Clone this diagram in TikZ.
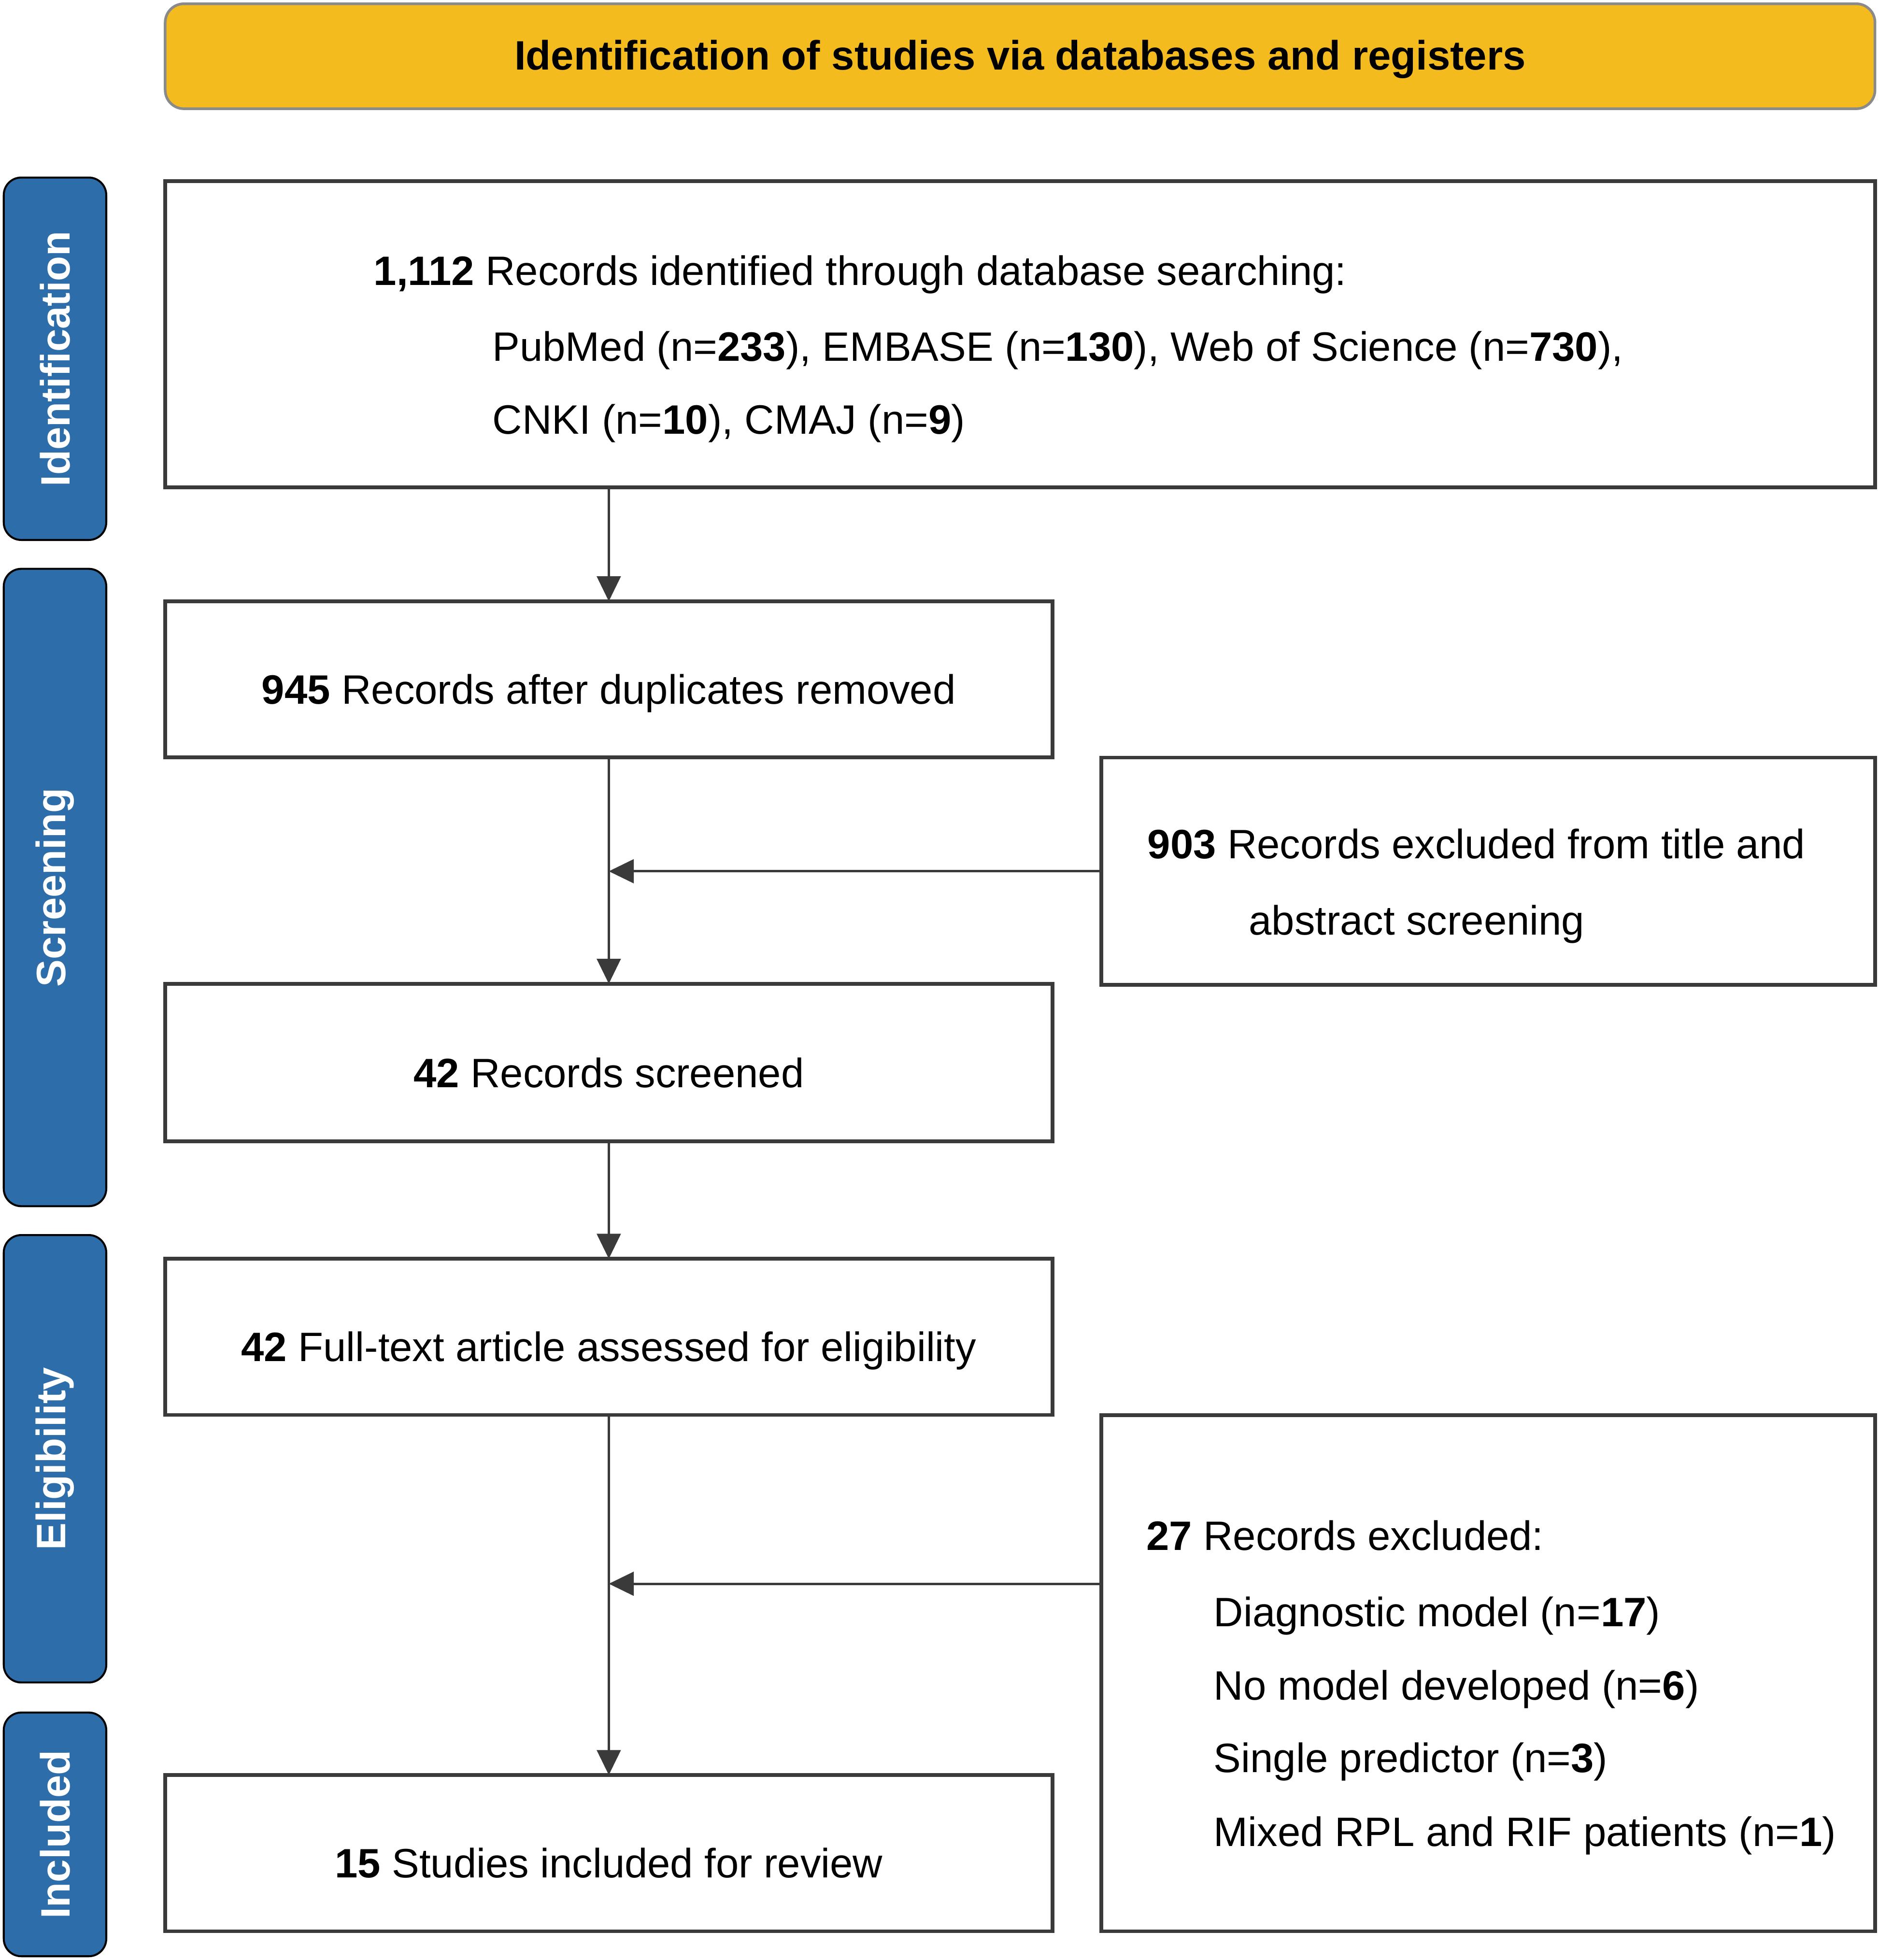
\documentclass[tikz,border=0pt]{standalone}
\usepackage{fontspec}
\setmainfont{Liberation Sans}
\usetikzlibrary{arrows.meta,calc}
\definecolor{hdr}{HTML}{F3BB1D}
\definecolor{hdrline}{HTML}{8A8A8A}
\definecolor{side}{HTML}{2C6DAA}
\definecolor{bord}{HTML}{3A3A3A}
\begin{document}
\begin{tikzpicture}[x=0.02cm,y=-0.02cm,
  every node/.style={font=\fontsize{18.7}{22}\selectfont, inner sep=0pt, outer sep=0pt},
  box/.style={draw=bord, line width=1.7pt, fill=white, rectangle},
  sidebox/.style={draw=black, line width=0.9pt, fill=side, rounded corners=0.28cm, text=white,
     font=\fontsize{18.7}{22}\selectfont\bfseries, rotate=90, minimum height=1.64cm},
  hdrbox/.style={draw=hdrline, line width=1.2pt, fill=hdr, rounded corners=0.3cm},
  arr/.style={draw=bord, line width=1.1pt, -{Triangle[length=0.4cm,width=0.38cm]}},
  lw/.style={anchor=base west},
  lc/.style={anchor=base}
]
\path[use as bounding box] (0,0) rectangle (1503,1568);

% header
\node[hdrbox, minimum width=27.36cm, minimum height=1.68cm] (hdr) at (816,45) {};
\node[lc, font=\fontsize{18.7}{22}\selectfont\bfseries] (hdrt) at (816,56) {Identification of studies via databases and registers};

% side boxes
\node[sidebox, minimum width=5.8cm] (s1) at (44,287) {Identification};
\node[sidebox, minimum width=10.2cm] (s2) at (44,710) {Screening};
\node[sidebox, minimum width=7.16cm] (s3) at (44,1167) {Eligibility};
\node[sidebox, minimum width=3.9cm] (s4) at (44,1467.5) {Included};

% main boxes
\node[box, minimum width=27.36cm, minimum height=4.9cm] (b1) at (816,267.5) {};
\node[box, minimum width=14.2cm, minimum height=2.5cm] (b2) at (487,543.5) {};
\node[box, minimum width=12.38cm, minimum height=3.64cm] (e1) at (1190.5,697) {};
\node[box, minimum width=14.2cm, minimum height=2.52cm] (b3) at (487,850) {};
\node[box, minimum width=14.2cm, minimum height=2.5cm] (b4) at (487,1069.5) {};
\node[box, minimum width=12.38cm, minimum height=8.26cm] (e2) at (1190.5,1338.5) {};
\node[box, minimum width=14.2cm, minimum height=2.5cm] (b5) at (487,1482.5) {};

% texts
\node[lw] (t11) at (299,228) {\textbf{1,112} Records identified through database searching:};
\node[lw] (t12) at (394,289) {PubMed (n=\textbf{233}), EMBASE (n=\textbf{130}), Web of Science (n=\textbf{730}),};
\node[lw] (t13) at (394,347) {CNKI (n=\textbf{10}), CMAJ (n=\textbf{9})};
\node[lc] (t2) at (487,563) {\textbf{945} Records after duplicates removed};
\node[lw] (te11) at (918,687) {\textbf{903} Records excluded from title and};
\node[lw] (te12) at (999,748) {abstract screening};
\node[lc] (t3) at (487,870) {\textbf{42} Records screened};
\node[lc] (t4) at (487,1089) {\textbf{42} Full-text article assessed for eligibility};
\node[lw] (te21) at (917,1240) {\textbf{27} Records excluded:};
\node[lw] (te22) at (971,1301) {Diagnostic model (n=\textbf{17})};
\node[lw] (te23) at (971,1360) {No model developed (n=\textbf{6})};
\node[lw] (te24) at (971,1418) {Single predictor (n=\textbf{3})};
\node[lw] (te25) at (971,1477) {Mixed RPL and RIF patients (n=\textbf{1})};
\node[lc] (t5) at (487,1502) {\textbf{15} Studies included for review};

% connectors
\draw[arr] (b2.north |- b1.south) -- (b2.north);
\draw[arr] (b2.south) -- (b3.north);
\draw[arr] (e1.west) -- (e1.west -| b2.south);
\draw[arr] (b3.south) -- (b4.north);
\draw[arr] (b4.south) -- (b5.north);
\coordinate (a2) at (881,1267);
\draw[arr] (a2) -- (a2 -| b4.south);
\end{tikzpicture}
\end{document}
